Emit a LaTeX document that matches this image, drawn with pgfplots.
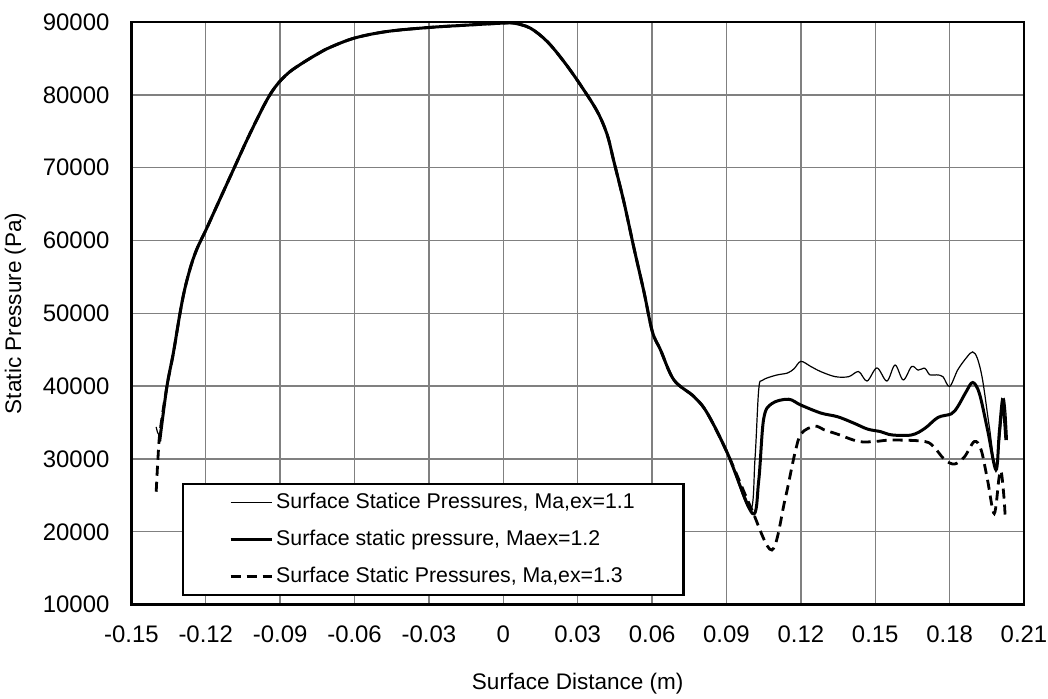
\documentclass[border=0pt]{standalone}
\usepackage{fontspec}
\setmainfont{Liberation Sans}
\usepackage{pgfplots}
\pgfplotsset{compat=1.18}
\begin{document}
\begin{tikzpicture}
\begin{axis}[
  at={(0,0)}, anchor=south west,
  scale only axis, width=446.3bp, height=291.3bp,
  xmin=-0.15, xmax=0.21, ymin=10000, ymax=90000,
  xtick={-0.15,-0.12,-0.09,-0.06,-0.03,0,0.03,0.06,0.09,0.12,0.15,0.18,0.21},
  xticklabels={-0.15,-0.12,-0.09,-0.06,-0.03,0,0.03,0.06,0.09,0.12,0.15,0.18,0.21},
  ytick={10000,20000,30000,40000,50000,60000,70000,80000,90000},
  yticklabels={10000,20000,30000,40000,50000,60000,70000,80000,90000},
  scaled y ticks=false, scaled x ticks=false,
  /pgf/number format/assume math mode=true,
  major tick length=0pt,
  grid=major,
  major grid style={draw=black!50, line width=0.7bp},
  axis line style={line width=1.4bp},
  ticklabel style={font=\fontsize{12}{14}\selectfont},
  xticklabel style={yshift=-7bp},
  yticklabel style={xshift=-7.5bp},
  xlabel={Surface Distance (m)},
  ylabel={Static Pressure (Pa)},
  label style={font=\fontsize{11.3}{13}\selectfont},
  xlabel style={at={(axis description cs:0.5,-0.1356)}, anchor=center},
  ylabel style={at={(axis description cs:-0.13,0.5)}, anchor=center},
  legend style={at={(axis description cs:0.0567,0.2087)}, anchor=north west,
    draw=black, line width=1.2bp, fill=white,
    inner xsep=23bp, inner ysep=4.5bp,
    font=\fontsize{10.7}{12}\selectfont,
    nodes={inner xsep=1.5bp, inner ysep=0bp, text height=7.5bp, text depth=2bp},
    row sep=9bp},
  legend cell align=left,
  legend image code/.code={\draw[#1] (0bp,0bp) -- (20.5bp,0bp);},
]
% Ma,ex = 1.1 (thin)
\addplot[black, line width=0.6bp, smooth, tension=0.55] coordinates {
(-0.1400,34400)(-0.1385,33600)(-0.1357,39900)(-0.1331,44500)(-0.1304,50000)(-0.1285,53300)
(-0.1260,56500)(-0.1235,58900)(-0.1200,61400)(-0.1156,64700)(-0.1089,69700)(-0.1034,73800)(-0.0981,77500)
(-0.0955,79200)(-0.0930,80600)(-0.0900,81900)(-0.0860,83200)(-0.0806,84450)(-0.0750,85600)(-0.0700,86500)
(-0.0600,87800)(-0.0469,88700)
(-0.0300,89250)(-0.0133,89600)(0.0000,89850)(0.0042,89850)(0.0109,89160)(0.0177,87320)
(0.0244,84580)(0.0311,81370)(0.0379,77710)(0.0419,74510)(0.0446,70840)(0.0486,65340)
(0.0527,58940)(0.0567,52980)(0.0601,47490)(0.0634,44970)(0.0688,40850)(0.0769,38560)
(0.0823,36270)(0.0904,30780)
(0.0995,23000)(0.1015,30000)(0.1030,39500)(0.1045,40800)(0.1100,41500)(0.1146,41800)
(0.1173,42400)(0.1200,43400)(0.1240,42700)(0.1280,42000)(0.1339,41300)(0.1393,41300)
(0.1433,42000)(0.1467,40700)(0.1507,42500)(0.1547,40700)(0.1580,42900)(0.1613,40850)
(0.1647,42700)(0.1673,42200)(0.1700,42450)(0.1720,41550)(0.1747,41550)(0.1773,41300)
(0.1800,39950)(0.1833,42250)(0.1870,44000)(0.1893,44700)(0.1912,43800)(0.1933,40850)
(0.1960,34450)(0.1987,28900)(0.2013,36700)(0.2020,38300)(0.2027,36300)(0.2033,32600)
};
\addlegendentry{Surface Statice Pressures, Ma,ex=1.1}
% Ma,ex = 1.2 (thick)
\addplot[black, line width=1.5bp, smooth, tension=0.55] coordinates {
(-0.1386,32400)(-0.1357,39900)(-0.1331,44500)(-0.1304,50000)(-0.1285,53300)
(-0.1260,56500)(-0.1235,58900)(-0.1200,61400)(-0.1156,64700)(-0.1089,69700)(-0.1034,73800)(-0.0981,77500)
(-0.0955,79200)(-0.0930,80600)(-0.0900,81900)(-0.0860,83200)(-0.0806,84450)(-0.0750,85600)(-0.0700,86500)
(-0.0600,87800)(-0.0469,88700)
(-0.0300,89250)(-0.0133,89600)(0.0000,89850)(0.0042,89850)(0.0109,89160)(0.0177,87320)
(0.0244,84580)(0.0311,81370)(0.0379,77710)(0.0419,74510)(0.0446,70840)(0.0486,65340)
(0.0527,58940)(0.0567,52980)(0.0601,47490)(0.0634,44970)(0.0688,40850)(0.0769,38560)
(0.0823,36270)(0.0904,30780)
(0.1005,22500)(0.1030,27000)(0.1050,35500)(0.1083,37600)(0.1150,38200)(0.1200,37400)
(0.1281,36300)(0.1348,35800)(0.1415,34900)(0.1469,34100)(0.1522,33750)(0.1567,33300)
(0.1647,33300)(0.1700,34200)(0.1753,35700)(0.1807,36200)(0.1833,37200)(0.1867,39250)
(0.1893,40500)(0.1920,39000)(0.1953,34000)(0.1987,28500)(0.2000,33500)(0.2013,38100)
(0.2020,36000)(0.2027,32600)
};
\addlegendentry{Surface static pressure, Maex=1.2}
% Ma,ex = 1.3 (dashed)
\addplot[black, line width=1.4bp, dash pattern=on 5bp off 3bp, smooth, tension=0.55] coordinates {
(-0.1400,25500)(-0.1393,30000)(-0.1385,33600)(-0.1357,39900)(-0.1331,44500)(-0.1304,50000)(-0.1285,53300)
(-0.1260,56500)(-0.1235,58900)(-0.1200,61400)(-0.1156,64700)(-0.1089,69700)(-0.1034,73800)(-0.0981,77500)
(-0.0955,79200)(-0.0930,80600)(-0.0900,81900)(-0.0860,83200)(-0.0806,84450)(-0.0750,85600)(-0.0700,86500)
(-0.0600,87800)(-0.0469,88700)
(-0.0300,89250)(-0.0133,89600)(0.0000,89850)(0.0042,89850)(0.0109,89160)(0.0177,87320)
(0.0244,84580)(0.0311,81370)(0.0379,77710)(0.0419,74510)(0.0446,70840)(0.0486,65340)
(0.0527,58940)(0.0567,52980)(0.0601,47490)(0.0634,44970)(0.0688,40850)(0.0769,38560)
(0.0823,36270)(0.0904,30780)
(0.1000,23200)(0.1083,17500)(0.1136,24400)(0.1176,30800)(0.1202,33500)(0.1256,34500)
(0.1294,34000)(0.1348,33400)(0.1433,32400)(0.1500,32400)(0.1567,32600)(0.1700,32400)
(0.1740,31500)(0.1780,29900)(0.1820,29300)(0.1860,30300)(0.1900,32400)(0.1927,31250)
(0.1953,27100)(0.1980,22500)(0.2000,27600)(0.2009,28100)(0.2020,24400)(0.2024,22000)
};
\addlegendentry{Surface Static Pressures, Ma,ex=1.3}
\end{axis}
\pgfresetboundingbox
\path[use as bounding box] (-65.7bp,-47.2bp) rectangle (458.3bp,302.3bp);
\end{tikzpicture}
\end{document}
